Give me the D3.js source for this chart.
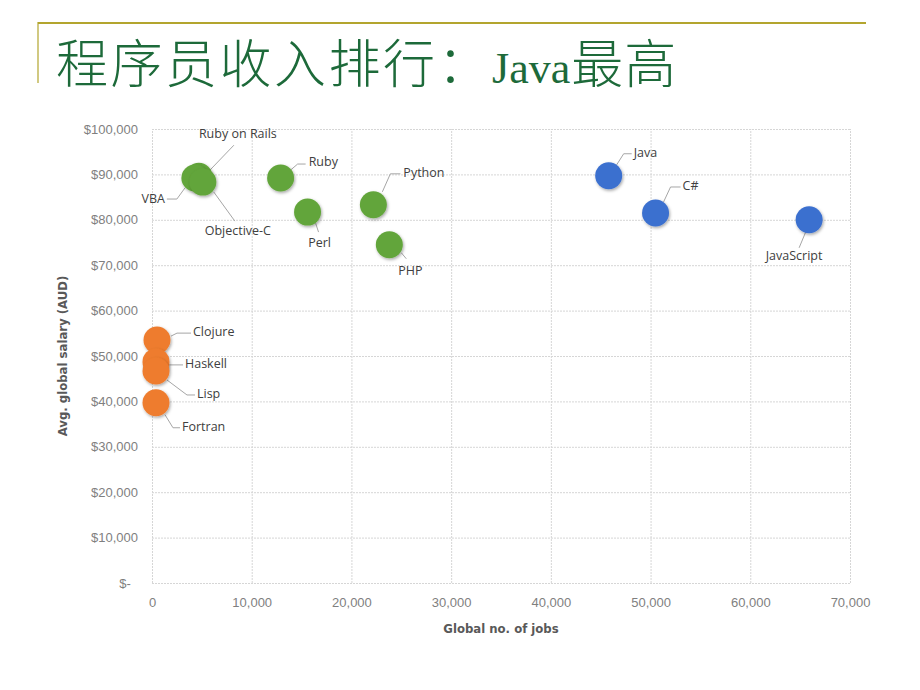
<!DOCTYPE html>
<html>
<head>
<meta charset="utf-8">
<script src="https://cdn.jsdelivr.net/npm/d3@7"></script>
<style>
  body { margin: 0; background: #fff; }
  .tick text { font-family: "Liberation Sans", sans-serif; font-size: 13px; fill: #7f7f7f; }
  .grid line { stroke: #d6d6d6; stroke-dasharray: 2,1; }
</style>
</head>
<body>
<script>
var languages = ["Java", "C#", "JavaScript", "Ruby on Rails", "VBA", "Objective-C", "Ruby", "Perl", "Python", "PHP", "Clojure", "Haskell", "Lisp", "Fortran"];
var jobs = [45800, 50500, 65900, 4700, 4300, 5100, 12900, 15600, 22200, 23800, 500, 400, 400, 400];
var salary = [89700, 81500, 80000, 89600, 89200, 88300, 89200, 81700, 83300, 74500, 53500, 48700, 46700, 39700];
var group = ["blue", "blue", "blue", "green", "green", "green", "green", "green", "green", "green", "orange", "orange", "orange", "orange"];
var xTicks = [0, 10000, 20000, 30000, 40000, 50000, 60000, 70000];
var yTicks = [0, 10000, 20000, 30000, 40000, 50000, 60000, 70000, 80000, 90000, 100000];

// where each label sits relative to its bubble (pixels)
var labelLayout = {
  "Java":          { dx: 25, dy: -22, anchor: "start",  leader: [[8, -11], [15, -22], [23, -22]] },
  "C#":            { dx: 27, dy: -26, anchor: "start",  leader: [[8, -11], [15, -26], [25, -26]] },
  "JavaScript":    { dx: -15, dy: 37, anchor: "middle", leader: [[0, 4], [-10, 28]] },
  "Ruby on Rails": { dx: 39, dy: -42, anchor: "middle", leader: [[11, -6], [35, -31]] },
  "VBA":           { dx: -30, dy: 22, anchor: "end",    leader: [[-10, 10], [-18, 21], [-28, 21]] },
  "Objective-C":   { dx: 35, dy: 50, anchor: "middle",  leader: [[11, 10], [32, 39]] },
  "Ruby":          { dx: 28, dy: -15, anchor: "start",  leader: [[10, -8], [17, -14], [25, -14]] },
  "Perl":          { dx: 12, dy: 32, anchor: "middle",  leader: [[8, 11], [11, 20]] },
  "Python":        { dx: 30, dy: -31, anchor: "start",  leader: [[9, -13], [17, -31], [27, -31]] },
  "PHP":           { dx: 21, dy: 27, anchor: "middle",  leader: [[12, 8], [17, 14]] },
  "Clojure":       { dx: 36, dy: -7, anchor: "start",   leader: [[14, -4], [20, -7], [34, -7]] },
  "Haskell":       { dx: 29, dy: 3, anchor: "start",    leader: [[12, 3], [27, 3]] },
  "Lisp":          { dx: 41, dy: 24, anchor: "start",   leader: [[11, 9], [31, 24], [39, 24]] },
  "Fortran":       { dx: 26, dy: 25, anchor: "start",   leader: [[9, 12], [17, 25], [24, 25]] }
};

var colors = { blue: "#3b6fcf", green: "#62a53a", orange: "#ee7c2d" };

var width = 920,
    height = 690;
var plot = { left: 152, right: 850, top: 129, bottom: 583 };

var svg = d3.select("body").append("svg")
    .attr("width", width)
    .attr("height", height);

var defs = svg.append("defs");
var shadow = defs.append("filter").attr("id", "shadow")
    .attr("x", "-50%").attr("y", "-50%").attr("width", "200%").attr("height", "200%");
shadow.append("feDropShadow")
    .attr("dx", 1).attr("dy", 1.5).attr("stdDeviation", 1.5)
    .attr("flood-color", "#000").attr("flood-opacity", 0.35);

// slide frame + title
svg.append("line")
    .attr("x1", 38).attr("x2", 866).attr("y1", 23).attr("y2", 23)
    .attr("stroke", "#b3a52e").attr("stroke-width", 2);
svg.append("line")
    .attr("x1", 38).attr("x2", 38).attr("y1", 22).attr("y2", 83)
    .attr("stroke", "#b3a52e").attr("stroke-width", 1.2);

var title = svg.append("text")
    .attr("x", 56).attr("y", 83)
    .attr("font-family", "'Liberation Serif', 'Noto Sans CJK SC', serif")
    .attr("font-size", 52)
    .attr("font-weight", 300)
    .attr("fill", "#1d6a3a");
title.append("tspan").attr("letter-spacing", 2.5).text("程序员收入排行：");
title.append("tspan").attr("font-size", 44).text("Java");
title.append("tspan").attr("dx", 1).attr("letter-spacing", 1).text("最高");

var xScale = d3.scaleLinear()
    .domain([0, 70000])
    .range([plot.left, plot.right]);
var yScale = d3.scaleLinear()
    .domain([0, 100000])
    .range([plot.bottom, plot.top]);

var xAxis = d3.axisBottom(xScale)
    .tickValues(xTicks)
    .tickSize(-(plot.bottom - plot.top))
    .tickPadding(15)
    .tickFormat(function (d) { return d3.format(",")(d); });
var yAxis = d3.axisLeft(yScale)
    .tickValues(yTicks)
    .tickSize(-(plot.right - plot.left))
    .tickPadding(14)
    .tickFormat(function (d) { return d === 0 ? "$-\u00a0\u00a0" : "$" + d3.format(",")(d); });

svg.append("g")
    .attr("class", "x grid")
    .attr("transform", "translate(0," + plot.bottom + ")")
    .call(xAxis)
    .call(function (g) { g.select(".domain").remove(); });

svg.append("g")
    .attr("class", "y grid")
    .attr("transform", "translate(" + plot.left + ",0)")
    .call(yAxis)
    .call(function (g) { g.select(".domain").remove(); });

// axis titles
svg.append("text")
    .attr("x", (plot.left + plot.right) / 2)
    .attr("y", 633)
    .attr("text-anchor", "middle")
    .attr("font-family", "'Liberation Sans Narrow', 'DejaVu Sans Condensed', sans-serif")
    .attr("font-weight", "bold")
    .attr("font-size", 13)
    .attr("fill", "#595959")
    .text("Global no. of jobs");

svg.append("text")
    .attr("transform", "translate(67," + ((plot.top + plot.bottom) / 2) + ") rotate(-90)")
    .attr("text-anchor", "middle")
    .attr("font-family", "'Liberation Sans Narrow', 'DejaVu Sans Condensed', sans-serif")
    .attr("font-weight", "bold")
    .attr("font-size", 13)
    .attr("fill", "#595959")
    .text("Avg. global salary (AUD)");

var points = languages.map(function (name, i) {
  return { name: name, x: jobs[i], y: salary[i], group: group[i] };
});

// leader lines
var line = d3.line();
svg.append("g").selectAll("path")
    .data(points)
    .enter()
    .append("path")
    .attr("fill", "none")
    .attr("stroke", "#a6a6a6")
    .attr("stroke-width", 1)
    .attr("d", function (d) {
      var cx = xScale(d.x), cy = yScale(d.y);
      return line(labelLayout[d.name].leader.map(function (p) { return [cx + p[0], cy + p[1]]; }));
    });

// bubbles
svg.append("g").selectAll("circle")
    .data(points)
    .enter()
    .append("circle")
    .attr("cx", function (d) { return xScale(d.x); })
    .attr("cy", function (d) { return yScale(d.y); })
    .attr("r", 13.5)
    .attr("fill", function (d) { return colors[d.group]; })
    .attr("filter", "url(#shadow)");

// labels
svg.append("g").selectAll("text")
    .data(points)
    .enter()
    .append("text")
    .attr("x", function (d) { return xScale(d.x) + labelLayout[d.name].dx; })
    .attr("y", function (d) { return yScale(d.y) + labelLayout[d.name].dy; })
    .attr("dominant-baseline", "middle")
    .attr("text-anchor", function (d) { return labelLayout[d.name].anchor; })
    .attr("font-family", "'Open Sans', sans-serif")
    .attr("font-size", 12.5)
    .attr("fill", "#404040")
    .text(function (d) { return d.name; });
</script>
</body>
</html>
